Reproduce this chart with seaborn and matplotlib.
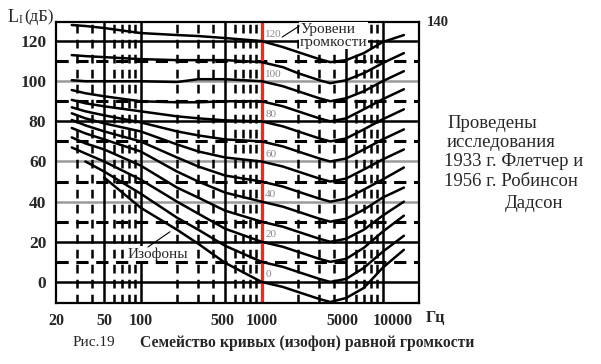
import numpy as np
import pandas as pd
import matplotlib
matplotlib.use("Agg")
import matplotlib.pyplot as plt
import matplotlib.transforms as mtransforms
import seaborn as sns

# equal loudness contours (dB at each frequency)
freq_hz = [27, 35, 50, 100, 200, 300, 500, 1000, 1500, 2000, 3000, 3700, 5000, 7000, 10000, 15000]
phon_levels = [0, 10, 20, 30, 40, 50, 60, 70, 80, 90, 100, 110, 120]

spl_0 = [np.nan, np.nan, 52, 37, 26, 19, 9.5, 0, -2.5, -5, -8.5, -10, -8, -3, 7, 16]
spl_10 = [np.nan, 60, 55, 44, 32, 26, 18, 10, 7.5, 5, 1.5, 0, 1.5, 7, 15, 23]
spl_20 = [67, 64, 60, 51, 40, 34, 26.5, 20, 17.5, 15, 11.5, 10, 11.5, 17, 25, 33]
spl_30 = [72, 69, 66, 58, 47, 42, 35.5, 30, 27.5, 25, 21.5, 20, 21.5, 26, 33, 40]
spl_40 = [76.7, 74, 71, 65, 55, 50, 44.5, 40, 37.5, 35, 31.5, 30, 31.5, 36, 42, 47]
spl_50 = [80.7, 78, 75, 70, 62, 57.5, 53, 50, 47.5, 45, 41.5, 40, 41.5, 46, 51, 57]
spl_60 = [84, 81.5, 79, 75, 68.5, 65, 62, 60, 57.5, 55, 51.5, 50, 51.5, 56, 61, 66]
spl_70 = [87, 85, 83, 79.5, 75, 73, 71, 70, 67.5, 65, 61.5, 60, 61.5, 66, 71, 76]
spl_80 = [90.7, 89, 87.5, 85, 82.5, 81.5, 80.5, 80, 77.5, 75, 71.5, 70, 71.5, 76, 81, 86]
spl_90 = [95.6, 94, 92.5, 90, 89.5, 89.5, 90, 90, 87.5, 85, 81.5, 80, 81.5, 86, 91, 96]
spl_100 = [100.5, 100, 100, 100, 99.6, 101, 101, 100, 97.5, 95, 91.5, 90, 91.5, 95, 100, 105]
spl_110 = [113, 112.5, 112, 111, 110.5, 110.5, 110.5, 109.5, 107, 104, 100.5, 99, 100.5, 104, 109, 114]
spl_120 = [128, 127.5, 126.5, 124, 123, 122.5, 121.5, 120, 117, 114.5, 111, 109.5, 110.5, 114, 119.5, 123]

curves = [spl_0, spl_10, spl_20, spl_30, spl_40, spl_50, spl_60,
          spl_70, spl_80, spl_90, spl_100, spl_110, spl_120]

x_ticks = [20, 50, 100, 500, 1000, 5000, 10000]
y_ticks = [0, 20, 40, 60, 80, 100, 120]
label_levels = [0, 20, 40, 60, 80, 100, 120]

rows = []
for lvl, vals in zip(phon_levels, curves):
    for f, v in zip(freq_hz, vals):
        if not np.isnan(v):
            rows.append({"phon": lvl, "freq": f, "spl": v})
df = pd.DataFrame(rows)

sns.set_style("white")
plt.rcParams['font.family'] = ['Liberation Serif', 'DejaVu Serif']

W, H = 601, 364
fig = plt.figure(figsize=(W / 100, H / 100), dpi=100)
ax = fig.add_axes([56 / W, 1 - 303 / H, 363 / W, 281 / H])
ax.set_xscale("log")

# grid
for y in y_ticks:
    c = "#9a9a9a" if y in (40, 60, 100) else "black"
    ax.axhline(y, color=c, lw=1.8, zorder=1)
for y in range(10, 120, 20):
    ax.axhline(y, color="black", lw=2.2, dashes=(4, 2.5), zorder=1)
for x in [50, 100, 500, 5000, 10000]:
    ax.axvline(x, color="black", lw=1.8, zorder=1)
minor_x = [30, 40, 60, 70, 80, 90, 200, 300, 400, 600, 700, 800, 900,
           2000, 3000, 4000, 6000, 7000, 8000, 9000]
for x in minor_x:
    ax.axvline(x, color="black", lw=1.8, dashes=(3.5, 2.5), zorder=1)
ax.axvline(1000, color="#e0302a", lw=2.4, zorder=2)

sns.lineplot(data=df, x="freq", y="spl", units="phon", estimator=None,
             color="black", lw=1.8, ax=ax, zorder=3, legend=False)

ax.set_xlim(20, 20000)
ax.set_ylim(-10.5, 129.5)
ax.set_xlabel("")
ax.set_ylabel("")
ax.set_xticks(x_ticks)
ax.set_xticklabels([str(v) for v in x_ticks], fontsize=11.5, fontweight="bold")
ax.xaxis.set_minor_locator(matplotlib.ticker.NullLocator())
ax.set_yticks(y_ticks)
ax.set_yticklabels([str(v) for v in y_ticks], fontsize=12.5, fontweight="bold")
ax.tick_params(length=0)
ax.tick_params(axis="x", pad=7)
ax.tick_params(axis="y", pad=7)
for s in ax.spines.values():
    s.set_visible(True)
    s.set_color("black")
    s.set_linewidth(1.6)

# nudge the crowded labels apart like in the original
xlabels = ax.get_xticklabels()
for lab, dx in zip(xlabels, [0, 0, 0, -3, 0, -4, 10]):
    if dx:
        lab.set_transform(lab.get_transform()
                          + mtransforms.ScaledTranslation(dx / 100, 0, fig.dpi_scale_trans))

# level labels next to the 1000 Hz line
for lvl in label_levels:
    ax.text(1070, lvl + 3.5, str(lvl), fontsize=8, color="#888888",
            ha="left", va="center", zorder=4)

# annotations
ax.text(2080, 129, "Уровени\nгромкости", fontsize=11, ha="left", va="top",
        linespacing=0.95, zorder=6,
        bbox=dict(facecolor="white", edgecolor="none", pad=0.5))
ax.plot([1480, 2050], [122, 127.5], color="black", lw=0.8, zorder=6)
ax.text(78, 14, "Изофоны", fontsize=11, ha="left", va="center", zorder=6,
        bbox=dict(facecolor="white", edgecolor="none", pad=0.5))
ax.plot([115, 175], [17.4, 25], color="black", lw=0.8, zorder=6)


def px(x, y):
    return x / W, 1 - y / H


fig.text(*px(8, 17), "L", fontsize=13, ha="left", va="center")
fig.text(*px(19, 20), "I", fontsize=8.5, ha="left", va="center")
fig.text(*px(24, 17), "(дБ)", fontsize=12, ha="left", va="center")
fig.text(*px(427, 22), "140", fontsize=10.5, fontweight="bold", ha="left", va="center")
fig.text(*px(426, 318), "Гц", fontsize=11.5, fontweight="bold", ha="left", va="center")

fig.text(*px(447, 123), "Проведены", fontsize=13.5, ha="left", va="center")
fig.text(*px(447, 143), "исследования", fontsize=13.5, ha="left", va="center")
fig.text(*px(444, 162), "1933 г. Флетчер и", fontsize=13.5, ha="left", va="center")
fig.text(*px(444, 181), "1956 г. Робинсон", fontsize=13.5, ha="left", va="center")
fig.text(*px(505, 203), "Дадсон", fontsize=13.5, ha="left", va="center")

fig.text(*px(73, 343), "Рис.19", fontsize=11, ha="left", va="center")
fig.text(*px(140, 343), "Семейство кривых (изофон) равной громкости",
         fontsize=11.3, fontweight="bold", ha="left", va="center")

fig.savefig("out.png", dpi=100)
